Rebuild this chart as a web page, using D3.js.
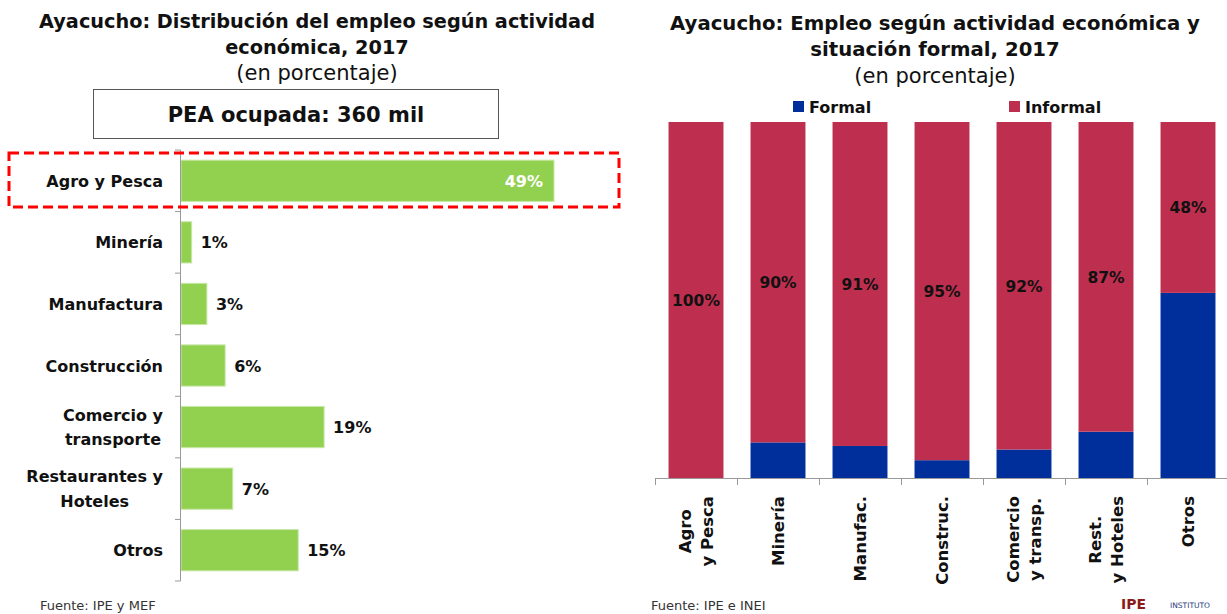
<!DOCTYPE html>
<meta charset="utf-8">
<style>
body { margin: 0; background: #fff; }
svg { font-family: "Century Gothic", "URW Gothic", "DejaVu Sans", sans-serif; }
.bold { font-weight: bold; }
</style>
<body>
<svg width="1227" height="614"></svg>
<script src="https://d3js.org/d3.v7.min.js"></script>
<script>
var svg = d3.select("svg");

// left chart data
const leftCats = ["Agro y Pesca", "Minería", "Manufactura", "Construcción", "Comercio y\ntransporte", "Restaurantes y\nHoteles", "Otros"];
const leftValues = [49.0, 1.4, 3.4, 5.8, 18.8, 6.8, 15.4];

// right chart data
const rightCats = ["Agro\ny Pesca", "Minería", "Manufac.", "Construc.", "Comercio\ny transp.", "Rest.\ny Hoteles", "Otros"];
const formalValues = [0, 10, 9, 5, 8, 13, 52];
const informalValues = [100, 90, 91, 95, 92, 87, 48];
const seriesNames = ["Formal", "Informal"];

var green = "#92d050", red = "#be2f4f", blue = "#002f9b";

/* ---------- LEFT ---------- */
var left = svg.append("g");

left.append("text").attr("class", "bold").attr("x", 317).attr("y", 28)
  .attr("text-anchor", "middle").style("font-size", "19.3px").style("fill", "#111")
  .text("Ayacucho: Distribución del empleo según actividad");
left.append("text").attr("class", "bold").attr("x", 317).attr("y", 54)
  .attr("text-anchor", "middle").style("font-size", "19.3px").style("fill", "#111")
  .text("económica, 2017");
left.append("text").attr("x", 317).attr("y", 80)
  .attr("text-anchor", "middle").style("font-size", "21px").style("fill", "#111")
  .text("(en porcentaje)");

left.append("rect").attr("x", 93.5).attr("y", 89.5).attr("width", 405).attr("height", 49)
  .style("fill", "#fff").style("stroke", "#555").style("stroke-width", 1);
left.append("text").attr("class", "bold").attr("x", 296).attr("y", 122)
  .attr("text-anchor", "middle").style("font-size", "21px").style("fill", "#111")
  .text("PEA ocupada: 360 mil");

var yL = d3.scaleBand().domain(leftCats).range([150, 581]).paddingInner(0.33).paddingOuter(0.165);
var xL = d3.scaleLinear().domain([0, 49]).range([181, 554]);

left.selectAll(".bar").data(leftValues).enter().append("rect")
  .attr("x", xL(0))
  .attr("y", function(d, i) { return yL(leftCats[i]); })
  .attr("width", function(d) { return xL(d) - xL(0); })
  .attr("height", yL.bandwidth())
  .style("fill", green)
  .style("stroke", "#c9e8a8").style("stroke-width", 1);

// axis line + ticks at band boundaries
var stepL = yL.step();
left.append("line").attr("x1", 180.5).attr("x2", 180.5).attr("y1", 150).attr("y2", 581)
  .style("stroke", "#999");
left.selectAll(".tk").data(d3.range(leftCats.length + 1)).enter().append("line")
  .attr("x1", 175).attr("x2", 180.5)
  .attr("y1", function(i) { return 150 + i * stepL; })
  .attr("y2", function(i) { return 150 + i * stepL; })
  .style("stroke", "#999");

// category labels, multi-line centred block right-aligned
leftCats.forEach(function(c) {
  var lines = c.split("\n");
  var g = left.append("g");
  var cy = yL(c) + yL.bandwidth() / 2;
  var t = lines.map(function(l, k) {
    return g.append("text").attr("class", "bold")
      .attr("y", cy + 6 + (k - (lines.length - 1) / 2) * 24.5)
      .style("font-size", "16px").style("fill", "#111").text(l);
  });
  var maxW = d3.max(t, function(n) { return n.node().getComputedTextLength(); });
  t.forEach(function(n) {
    n.attr("x", 163 - maxW / 2).attr("text-anchor", "middle");
  });
});

// value labels
left.selectAll(".val").data(leftValues).enter().append("text")
  .attr("class", "bold")
  .attr("x", function(d, i) { return i === 0 ? xL(d) - 11 : xL(d) + 9; })
  .attr("y", function(d, i) { return yL(leftCats[i]) + yL.bandwidth() / 2 + 6; })
  .attr("text-anchor", function(d, i) { return i === 0 ? "end" : "start"; })
  .style("font-size", "16px")
  .style("fill", function(d, i) { return i === 0 ? "#fff" : "#111"; })
  .text(function(d) { return Math.round(d) + "%"; });

// dashed highlight
left.append("rect").attr("x", 9).attr("y", 153).attr("width", 610).attr("height", 54)
  .style("fill", "none").style("stroke", "#ff0000").style("stroke-width", 3)
  .style("stroke-dasharray", "10,5");

left.append("text").attr("x", 40).attr("y", 610).style("font-size", "13px").style("fill", "#333")
  .text("Fuente: IPE y MEF");

/* ---------- RIGHT ---------- */
var right = svg.append("g");

right.append("text").attr("class", "bold").attr("x", 935).attr("y", 30)
  .attr("text-anchor", "middle").style("font-size", "19.7px").style("fill", "#111")
  .text("Ayacucho: Empleo según actividad económica y");
right.append("text").attr("class", "bold").attr("x", 935).attr("y", 56)
  .attr("text-anchor", "middle").style("font-size", "19.7px").style("fill", "#111")
  .text("situación formal, 2017");
right.append("text").attr("x", 935).attr("y", 83)
  .attr("text-anchor", "middle").style("font-size", "21px").style("fill", "#111")
  .text("(en porcentaje)");

// legend
var legX = [793, 1009];
var legCol = [blue, red];
seriesNames.forEach(function(s, i) {
  right.append("rect").attr("x", legX[i]).attr("y", 101).attr("width", 11).attr("height", 11)
    .style("fill", legCol[i]);
  right.append("text").attr("class", "bold").attr("x", legX[i] + 16).attr("y", 113)
    .style("font-size", "16px").style("fill", "#111").text(s);
});

var xR = d3.scaleBand().domain(rightCats).range([655, 655 + 82 * 7]).paddingInner(0.33).paddingOuter(0.165);
var yR = d3.scaleLinear().domain([0, 100]).range([478, 122]);

var stackData = rightCats.map(function(c, i) {
  return { cat: c, Formal: formalValues[i], Informal: informalValues[i] };
});
var stack = d3.stack().keys(seriesNames)(stackData);

right.selectAll(".layer").data(stack).enter().append("g")
  .style("fill", function(d, i) { return legCol[i]; })
  .selectAll("rect").data(function(d) { return d; }).enter().append("rect")
  .attr("x", function(d) { return xR(d.data.cat); })
  .attr("y", function(d) { return yR(d[1]); })
  .attr("height", function(d) { return yR(d[0]) - yR(d[1]); })
  .attr("width", xR.bandwidth());

// informal labels
right.selectAll(".ival").data(stack[1]).enter().append("text")
  .attr("class", "bold")
  .attr("x", function(d) { return xR(d.data.cat) + xR.bandwidth() / 2; })
  .attr("y", function(d) { return (yR(d[0]) + yR(d[1])) / 2 + 6; })
  .attr("text-anchor", "middle").style("font-size", "15.5px").style("fill", "#111")
  .text(function(d) { return d.data.Informal + "%"; });

// axis
var stepR = xR.step();
right.append("line").attr("x1", 655).attr("x2", 1227).attr("y1", 478.5).attr("y2", 478.5)
  .style("stroke", "#999");
right.selectAll(".tk").data(d3.range(rightCats.length + 1)).enter().append("line")
  .attr("x1", function(i) { return 655.5 + i * stepR; })
  .attr("x2", function(i) { return 655.5 + i * stepR; })
  .attr("y1", 478.5).attr("y2", 485)
  .style("stroke", "#999");

rightCats.forEach(function(c) {
  var lines = c.split("\n");
  var cx = xR(c) + xR.bandwidth() / 2;
  var g = right.append("g");
  var t = lines.map(function(l, k) {
    var x = cx + 6 + (k - (lines.length - 1) / 2) * 22;
    return g.append("text").attr("class", "bold")
      .attr("transform", "translate(" + x + ",0) rotate(-90)")
      .style("font-size", "16.5px").style("fill", "#111").text(l);
  });
  var maxW = d3.max(t, function(n) { return n.node().getComputedTextLength(); });
  t.forEach(function(n) {
    n.attr("x", -(496 + maxW / 2)).attr("text-anchor", "middle");
  });
});

right.append("text").attr("x", 651).attr("y", 610).style("font-size", "13px").style("fill", "#333")
  .text("Fuente: IPE e INEI");

// logo
right.append("text").attr("class", "bold").attr("x", 1121).attr("y", 609)
  .style("font-size", "14px").style("fill", "#8b1c1c").text("IPE");
right.append("text").attr("x", 1170).attr("y", 608)
  .style("font-size", "7.5px").style("fill", "#1f3a7a").text("INSTITUTO");
</script>
</body>
